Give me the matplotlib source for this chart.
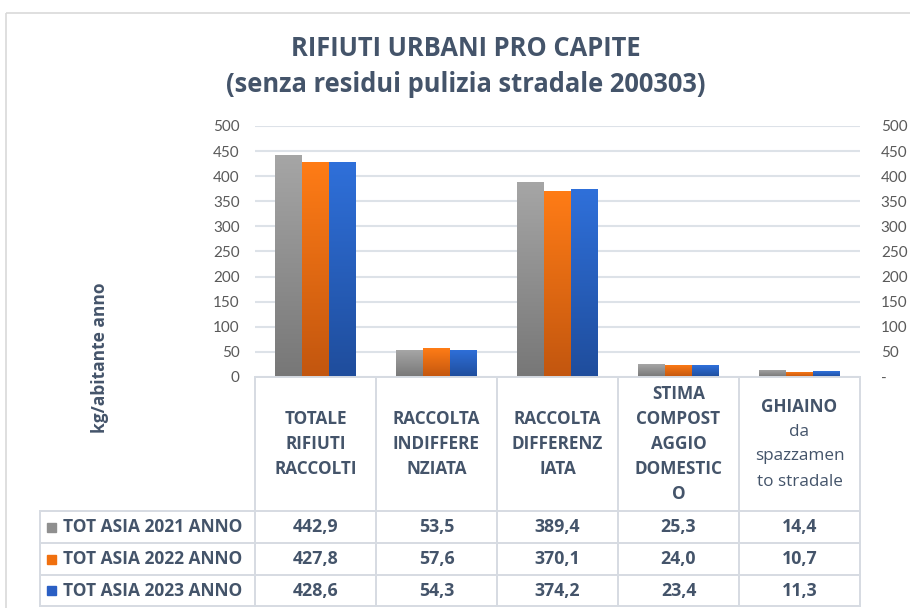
import numpy as np
import matplotlib.pyplot as plt
from matplotlib.colors import LinearSegmentedColormap
from matplotlib.lines import Line2D
from matplotlib.patches import Rectangle

# data
categories = [
    ["TOTALE", "RIFIUTI", "RACCOLTI"],
    ["RACCOLTA", "INDIFFERE", "NZIATA"],
    ["RACCOLTA", "DIFFERENZ", "IATA"],
    ["STIMA", "COMPOST", "AGGIO", "DOMESTIC", "O"],
    ["GHIAINO", "da", "spazzamen", "to stradale"],
]
series_names = ["TOT ASIA 2021 ANNO", "TOT ASIA 2022 ANNO", "TOT ASIA 2023 ANNO"]
val_2021 = [442.9, 53.5, 389.4, 25.3, 14.4]
val_2022 = [427.8, 57.6, 370.1, 24.0, 10.7]
val_2023 = [428.6, 54.3, 374.2, 23.4, 11.3]
yticks = [0, 50, 100, 150, 200, 250, 300, 350, 400, 450, 500]

series = [val_2021, val_2022, val_2023]
grad_top = ["#a6a6a6", "#ff7c16", "#2f70da"]
grad_bot = ["#777777", "#c2560f", "#1f4d9c"]
key_cols = ["#8f8f8f", "#f0700f", "#2a5fc4"]

TXT = "#44546a"
TICK = "#595959"
GRID = "#dde2e8"
LINE = "#d6dbe2"
BOLDF = ['Open Sans', 'DejaVu Sans']

plt.rcParams['font.family'] = ['Lato', 'DejaVu Sans']

W, H = 910, 608
fig = plt.figure(figsize=(W / 100, H / 100), dpi=100)

# pixel box of the plot area
px0, px1, py_top, py_bot = 255, 860, 126, 377
ax = fig.add_axes([px0 / W, 1 - py_bot / H, (px1 - px0) / W, (py_bot - py_top) / H])
ax.set_xlim(0, len(categories))
ax.set_ylim(0, 500)
ax.set_yticks(yticks)
ax.set_xticks([])
for s in ax.spines.values():
    s.set_visible(False)
ax.grid(axis='y', color=GRID, linewidth=1.5)
ax.set_axisbelow(True)
ax.tick_params(axis='y', length=0, pad=11, labelsize=11, labelcolor=TICK)

ax2 = ax.twinx()
ax2.set_ylim(0, 500)
ax2.set_yticks(yticks)
ax2.set_yticklabels(["-" if v == 0 else str(v) for v in yticks])
for s in ax2.spines.values():
    s.set_visible(False)
ax2.tick_params(axis='y', length=0, pad=15, labelsize=11, labelcolor=TICK)

bw = 27 / 121
x = np.arange(len(categories)) + 0.5
grad = np.linspace(0, 1, 256).reshape(-1, 1)
for i, vals in enumerate(series):
    cmap = LinearSegmentedColormap.from_list("g%d" % i, [grad_bot[i], grad_top[i]])
    bars = ax.bar(x + (i - 1) * bw, vals, width=bw, color='none', zorder=3)
    for b in bars:
        bx = b.get_x()
        im = ax.imshow(grad, extent=(bx, bx + b.get_width(), 0, b.get_height()),
                       origin='lower', aspect='auto', cmap=cmap, zorder=3)
        im.set_clip_path(b)
ax.set_xlim(0, len(categories))
ax.set_ylim(0, 500)

# overlay in pixel coordinates for frame, title and table
ov = fig.add_axes([0, 0, 1, 1], zorder=-1)
ov.set_xlim(0, W)
ov.set_ylim(H, 0)
ov.axis('off')
ov.add_patch(Rectangle((6, 13), 920, 620, fill=False, edgecolor="#d9d9d9", linewidth=1.2))

ov2 = fig.add_axes([0, 0, 1, 1], zorder=5)
ov2.set_xlim(0, W)
ov2.set_ylim(H, 0)
ov2.axis('off')

ov2.text(466, 49, "RIFIUTI URBANI PRO CAPITE", ha='center', va='center',
         fontsize=18.4, fontweight='bold', color=TXT, family=BOLDF)
ov2.text(466, 85, "(senza residui pulizia stradale 200303)", ha='center', va='center',
         fontsize=18.4, fontweight='bold', color=TXT, family=BOLDF)
ov2.text(100, 358, "kg/abitante anno", rotation=90, ha='center', va='center',
         fontsize=12.5, fontweight='bold', color=TXT, family=BOLDF)

colw = (px1 - px0) / len(categories)
col_edges = [px0 + k * colw for k in range(len(categories) + 1)]
row_edges = [511, 543, 575, 606]
leg_x0 = 40

def hline(y, xa, xb):
    ov2.add_line(Line2D([xa, xb], [y, y], color=LINE, linewidth=1.4))

def vline(xp, ya, yb):
    ov2.add_line(Line2D([xp, xp], [ya, yb], color=LINE, linewidth=1.4))

hline(py_bot, px0, px1)
for ry in row_edges:
    hline(ry, leg_x0, px1)
for cx in col_edges:
    vline(cx, py_bot, row_edges[-1])
vline(leg_x0, row_edges[0], row_edges[-1])

# header cells
hdr_mid = (py_bot + row_edges[0]) / 2
lh = 25
for k, lines in enumerate(categories):
    cx = (col_edges[k] + col_edges[k + 1]) / 2
    n = len(lines)
    for j, t in enumerate(lines):
        yy = hdr_mid + (j - (n - 1) / 2) * lh
        wt = 'bold'
        if k == 4 and j > 0:
            wt = 'normal'
        ov2.text(cx, yy, t, ha='center', va='center', fontsize=12.3,
                 fontweight=wt, color=TXT, family=BOLDF)

# value rows
for i, vals in enumerate(series):
    ry = (row_edges[i] + row_edges[i + 1]) / 2
    ov2.add_patch(Rectangle((47, ry - 4.5), 9, 9, color=key_cols[i]))
    ov2.text(63, ry, series_names[i], ha='left', va='center', fontsize=12.5,
             fontweight='bold', color=TXT, family=BOLDF)
    for k, v in enumerate(vals):
        cx = (col_edges[k] + col_edges[k + 1]) / 2
        ov2.text(cx, ry, f"{v:.1f}".replace(".", ","), ha='center', va='center',
                 fontsize=12.8, fontweight='bold', color=TXT, family=BOLDF)

fig.savefig("out.png", dpi=100)
